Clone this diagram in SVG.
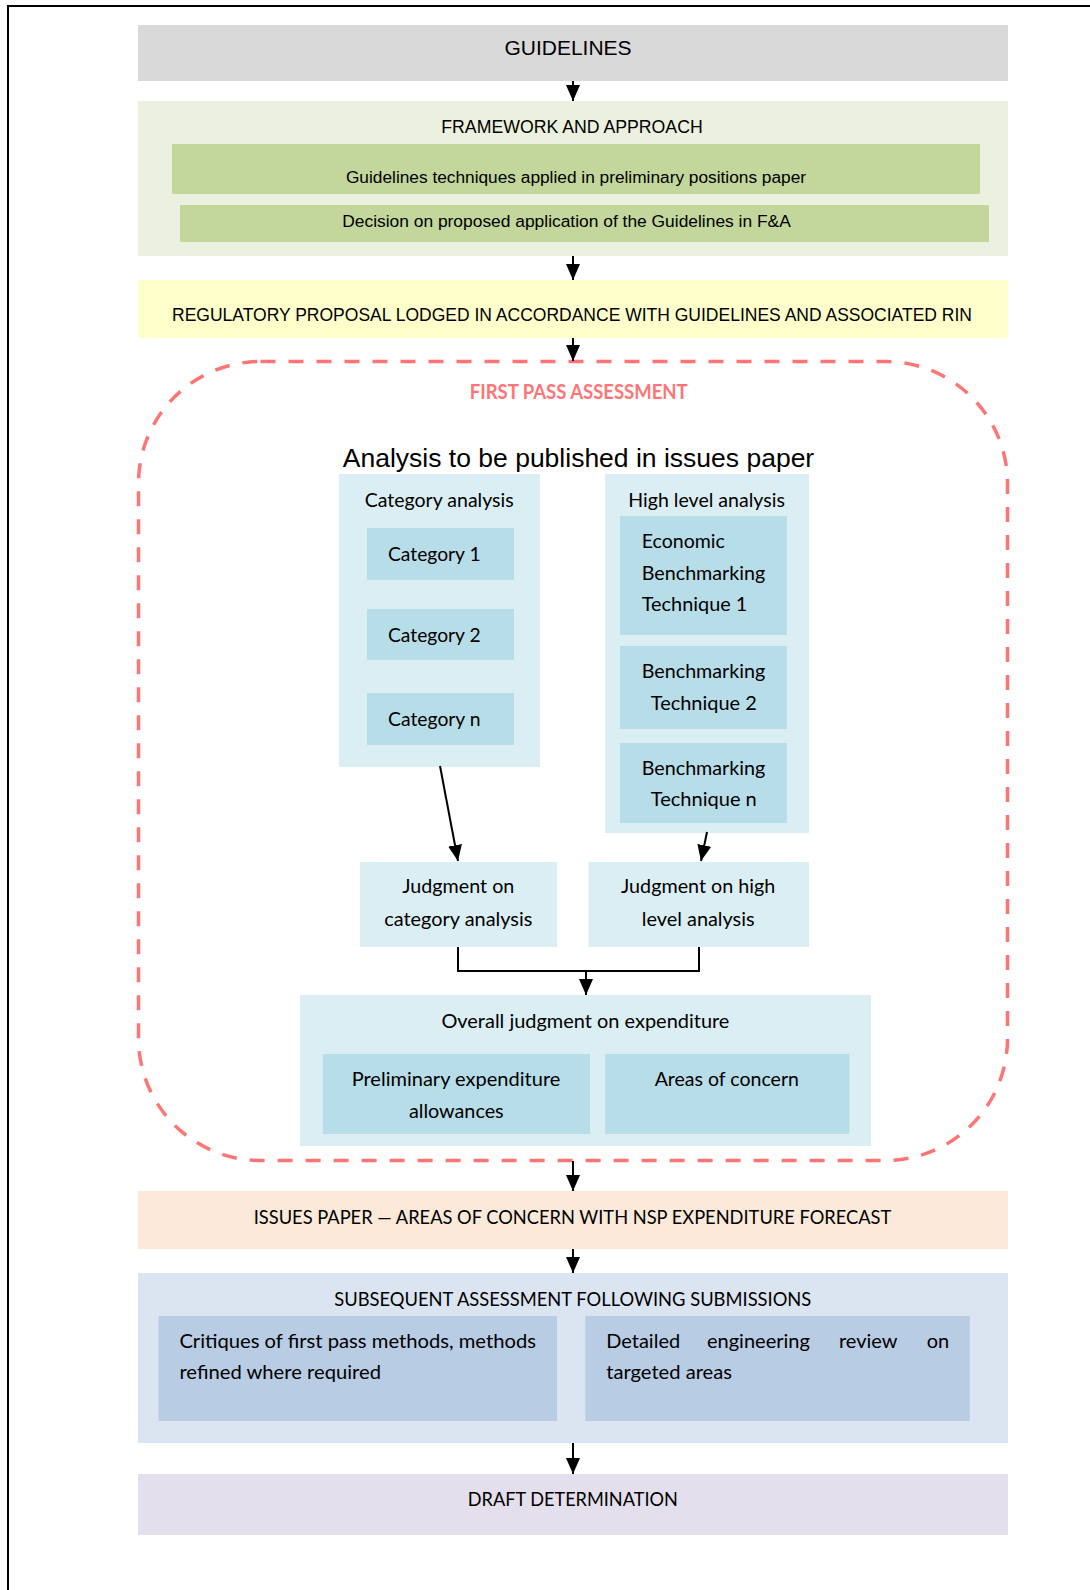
<svg xmlns="http://www.w3.org/2000/svg" width="1090" height="1590" viewBox="0 0 1090 1590">
<style>
.a{font-family:"Liberation Sans",Arial,sans-serif;fill:#000}
.c{font-family:Lato,"Open Sans",sans-serif;font-size:20px;fill:#000}
.mid{text-anchor:middle}
.ln{stroke:#000;stroke-width:2;fill:none}
</style>
<defs>
<marker id="ah" viewBox="0 0 16 14" refX="16" refY="7" markerWidth="16" markerHeight="14" markerUnits="userSpaceOnUse" orient="auto">
<path d="M0,0 L16,7 L0,14 z" fill="#000"/>
</marker>
</defs>
<rect width="1090" height="1590" fill="#fff"/>
<path d="M8,1590 V6 H1090" stroke="#000" stroke-width="2" fill="none"/>

<g id="guidelines">
<rect x="138" y="25" width="870" height="56" fill="#d9d9d9"/>
<text class="a mid" x="568" y="55" font-size="21">GUIDELINES</text>
</g>

<g id="framework">
<rect x="138" y="101" width="870" height="155" fill="#ebf1de"/>
<text class="a mid" x="572" y="133" font-size="17.7">FRAMEWORK AND APPROACH</text>
<g id="fa-techniques">
<rect x="172" y="144" width="808" height="50" fill="#c3d69b"/>
<text class="a mid" x="576" y="183" font-size="17.3">Guidelines techniques applied in preliminary positions paper</text>
</g>
<g id="fa-decision">
<rect x="180" y="205" width="809" height="37" fill="#c3d69b"/>
<text class="a mid" x="566.5" y="227" font-size="17.4">Decision on proposed application of the Guidelines in F&amp;A</text>
</g>
</g>

<g id="regulatory">
<rect x="138" y="280" width="870" height="58" fill="#ffffcc"/>
<text class="a mid" x="572" y="321" font-size="17.5">REGULATORY PROPOSAL LODGED IN ACCORDANCE WITH GUIDELINES AND ASSOCIATED RIN</text>
</g>

<g id="first-pass">
<rect x="138.5" y="361.5" width="869" height="799" rx="122" ry="122" fill="none" stroke="#ff7575" stroke-width="3.5" stroke-dasharray="15 13"/>
<text class="c mid" x="578.7" y="399" font-size="19" font-weight="bold" style="fill:#ff7575" textLength="218" lengthAdjust="spacingAndGlyphs">FIRST PASS ASSESSMENT</text>
<text class="a mid" x="578.5" y="467" font-size="26.5">Analysis to be published in issues paper</text>
</g>

<g id="category-analysis">
<rect x="339" y="474" width="201" height="293" fill="#dbeef3"/>
<text class="c mid" x="439.2" y="506.5" textLength="149" lengthAdjust="spacingAndGlyphs">Category analysis</text>
</g>
<g id="category-1">
<rect x="367" y="528" width="147" height="52" fill="#b7dde8"/>
<text class="c" x="388" y="560.5" textLength="92.6" lengthAdjust="spacingAndGlyphs">Category 1</text>
</g>
<g id="category-2">
<rect x="367" y="609" width="147" height="51" fill="#b7dde8"/>
<text class="c" x="388" y="641.5" textLength="92.6" lengthAdjust="spacingAndGlyphs">Category 2</text>
</g>
<g id="category-n">
<rect x="367" y="693" width="147" height="52" fill="#b7dde8"/>
<text class="c" x="388" y="725.8" textLength="92.6" lengthAdjust="spacingAndGlyphs">Category n</text>
</g>

<g id="high-level-analysis">
<rect x="605" y="474" width="204" height="359" fill="#dbeef3"/>
<text class="c mid" x="706.6" y="506.5" textLength="156.6" lengthAdjust="spacingAndGlyphs">High level analysis</text>
</g>
<g id="technique-1">
<rect x="620" y="516" width="167" height="119" fill="#b7dde8"/>
<text class="c" x="641.8" y="548" textLength="83" lengthAdjust="spacingAndGlyphs">Economic</text>
<text class="c" x="641.8" y="579.5" textLength="123.4" lengthAdjust="spacingAndGlyphs">Benchmarking</text>
<text class="c" x="641.8" y="611" textLength="105.5" lengthAdjust="spacingAndGlyphs">Technique 1</text>
</g>
<g id="technique-2">
<rect x="620" y="646" width="167" height="83" fill="#b7dde8"/>
<text class="c mid" x="703.5" y="678" textLength="123.4" lengthAdjust="spacingAndGlyphs">Benchmarking</text>
<text class="c mid" x="703.8" y="709.5" textLength="106" lengthAdjust="spacingAndGlyphs">Technique 2</text>
</g>
<g id="technique-n">
<rect x="620" y="743" width="167" height="80" fill="#b7dde8"/>
<text class="c mid" x="703.5" y="775" textLength="123.4" lengthAdjust="spacingAndGlyphs">Benchmarking</text>
<text class="c mid" x="703.8" y="806" textLength="106" lengthAdjust="spacingAndGlyphs">Technique n</text>
</g>

<g id="judgment-category">
<rect x="360" y="862" width="197" height="85" fill="#dbeef3"/>
<text class="c mid" x="458.3" y="893" textLength="112" lengthAdjust="spacingAndGlyphs">Judgment on</text>
<text class="c mid" x="458.3" y="925.5" textLength="148" lengthAdjust="spacingAndGlyphs">category analysis</text>
</g>
<g id="judgment-high">
<rect x="588.5" y="862" width="220.5" height="85" fill="#dbeef3"/>
<text class="c mid" x="698.2" y="893" textLength="154.3" lengthAdjust="spacingAndGlyphs">Judgment on high</text>
<text class="c mid" x="698.2" y="925.5" textLength="112.8" lengthAdjust="spacingAndGlyphs">level analysis</text>
</g>

<g id="overall-judgment">
<rect x="300" y="995" width="571" height="151" fill="#dbeef3"/>
<text class="c mid" x="585.4" y="1028" textLength="288" lengthAdjust="spacingAndGlyphs">Overall judgment on expenditure</text>
</g>
<g id="preliminary-allowances">
<rect x="323" y="1054" width="267" height="80" fill="#b7dde8"/>
<text class="c mid" x="456" y="1086" textLength="208.7" lengthAdjust="spacingAndGlyphs">Preliminary expenditure</text>
<text class="c mid" x="456.3" y="1118" textLength="94.8" lengthAdjust="spacingAndGlyphs">allowances</text>
</g>
<g id="areas-of-concern">
<rect x="605" y="1054" width="244.5" height="80" fill="#b7dde8"/>
<text class="c mid" x="726.8" y="1086" textLength="144.2" lengthAdjust="spacingAndGlyphs">Areas of concern</text>
</g>

<g id="issues-paper">
<rect x="138" y="1191" width="870" height="58" fill="#fde9d9"/>
<text class="c mid" x="572.5" y="1224" textLength="637.5" lengthAdjust="spacingAndGlyphs">ISSUES PAPER — AREAS OF CONCERN WITH NSP EXPENDITURE FORECAST</text>
</g>

<g id="subsequent-assessment">
<rect x="138" y="1273" width="870" height="170" fill="#dbe5f1"/>
<text class="c mid" x="572.8" y="1306" textLength="477" lengthAdjust="spacingAndGlyphs">SUBSEQUENT ASSESSMENT FOLLOWING SUBMISSIONS</text>
</g>
<g id="critiques">
<rect x="158.5" y="1316" width="398.5" height="105" fill="#b8cce4"/>
<text class="c" x="179.4" y="1348" textLength="356.6" lengthAdjust="spacingAndGlyphs">Critiques of first pass methods, methods</text>
<text class="c" x="179.4" y="1379" textLength="201.6" lengthAdjust="spacingAndGlyphs">refined where required</text>
</g>
<g id="engineering-review">
<rect x="585.3" y="1316" width="384.5" height="105" fill="#b8cce4"/>
<text class="c" y="1348"><tspan x="606.2">Detailed</tspan><tspan x="707">engineering</tspan><tspan x="839">review</tspan><tspan x="926.7">on</tspan></text>
<text class="c" x="606.2" y="1379" textLength="125.8" lengthAdjust="spacingAndGlyphs">targeted areas</text>
</g>

<g id="draft-determination">
<rect x="138" y="1474" width="870" height="61" fill="#e4dfec"/>
<text class="c mid" x="572.8" y="1506" textLength="210" lengthAdjust="spacingAndGlyphs">DRAFT DETERMINATION</text>
</g>

<g id="connectors">
<line class="ln" x1="573" y1="81" x2="573" y2="101" marker-end="url(#ah)"/>
<line class="ln" x1="573" y1="256" x2="573" y2="280" marker-end="url(#ah)"/>
<line class="ln" x1="573" y1="338" x2="573" y2="361" marker-end="url(#ah)"/>
<line class="ln" x1="440" y1="766" x2="458" y2="861" marker-end="url(#ah)"/>
<line class="ln" x1="707" y1="832" x2="701" y2="861" marker-end="url(#ah)"/>
<path class="ln" d="M458,947 V971 H699 V947"/>
<line class="ln" x1="586" y1="971" x2="586" y2="995" marker-end="url(#ah)"/>
<line class="ln" x1="573" y1="1161" x2="573" y2="1191" marker-end="url(#ah)"/>
<line class="ln" x1="573" y1="1249" x2="573" y2="1273" marker-end="url(#ah)"/>
<line class="ln" x1="573" y1="1443" x2="573" y2="1474" marker-end="url(#ah)"/>
</g>
</svg>
